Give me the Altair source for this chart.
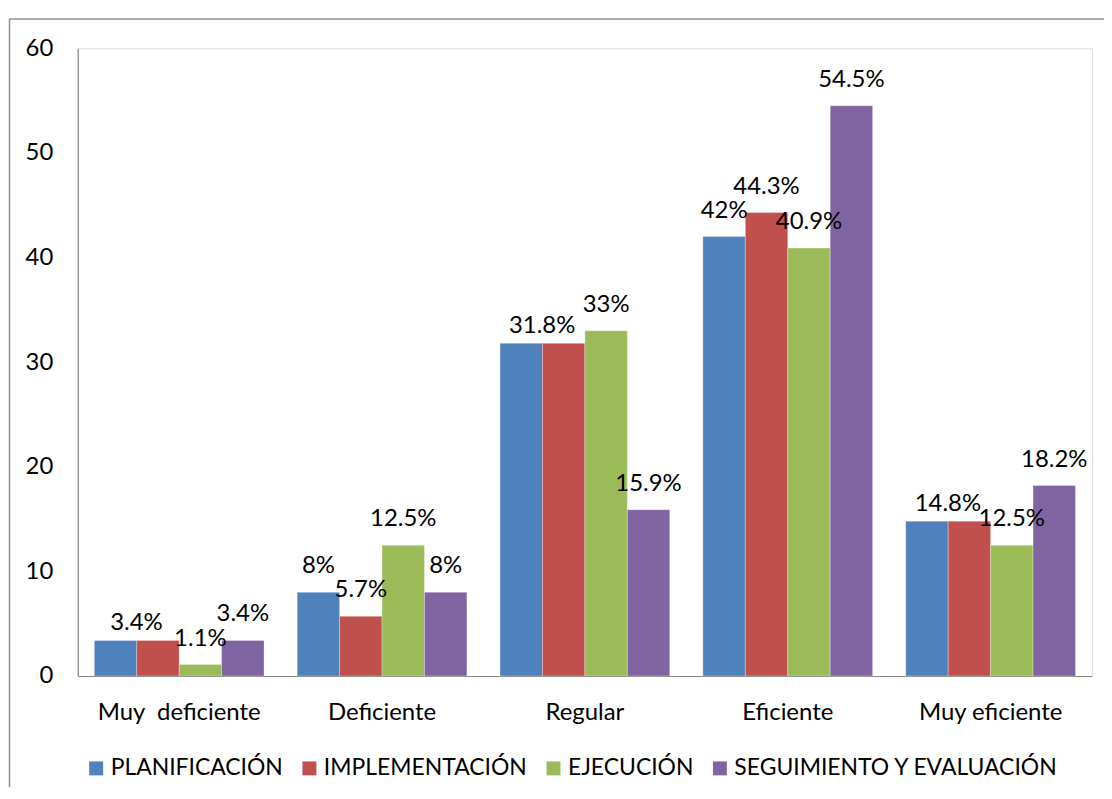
import altair as alt
import pandas as pd

categories = ["Muy\u00a0 deficiente", "Deficiente", "Regular", "Eficiente", "Muy eficiente"]
series = ["PLANIFICACIÓN", "IMPLEMENTACIÓN", "EJECUCIÓN", "SEGUIMIENTO Y EVALUACIÓN"]
planificacion = [3.4, 8, 31.8, 42, 14.8]
implementacion = [3.4, 5.7, 31.8, 44.3, 14.8]
ejecucion = [1.1, 12.5, 33, 40.9, 12.5]
seguimiento = [3.4, 8, 15.9, 54.5, 18.2]
colors = ["#4F81BD", "#C0504D", "#9BBB59", "#8064A2"]
y_ticks = [0, 10, 20, 30, 40, 50, 60]

FONT = "Lato"
FS = 24
values_by_series = [planificacion, implementacion, ejecucion, seguimiento]

rows = []
for s, vals in zip(series, values_by_series):
    for c, v in zip(categories, vals):
        rows.append({"category": c, "series": s, "value": v, "label": f"{v:g}%"})
df = pd.DataFrame(rows)

# labels: where first two series share a value, a single shared label is shown
norm_rows, merged_rows = [], []
for r in rows:
    i = categories.index(r["category"])
    same = planificacion[i] == implementacion[i]
    if r["series"] == series[1] and same:
        continue
    if r["series"] == series[0] and same:
        merged_rows.append(r)
    else:
        norm_rows.append(r)
df_norm = pd.DataFrame(norm_rows)
df_merged = pd.DataFrame(merged_rows)

W, H = 1018, 630

x_enc = alt.X("category:N", sort=categories,
              scale=alt.Scale(paddingInner=0.1634, paddingOuter=0.0817),
              axis=alt.Axis(title=None, labelAngle=0, ticks=False, domainColor="#868686",
                            domainWidth=1.2, labelPadding=25, labelFontSize=FS, labelFont=FONT,
                            labelColor="black"))
xo_enc = alt.XOffset("series:N", sort=series, scale=alt.Scale(paddingInner=0, paddingOuter=0))
y_enc = alt.Y("value:Q", scale=alt.Scale(domain=[0, 60], nice=False),
              axis=alt.Axis(title=None, values=y_ticks, ticks=False, grid=False,
                            domainColor="#868686", domainWidth=1.2, labelPadding=25,
                            labelFontSize=FS, labelFont=FONT, labelColor="black"))

bars = alt.Chart(df).mark_bar(stroke="white", strokeWidth=0.5, strokeOpacity=0.6).encode(
    x=x_enc, xOffset=xo_enc, y=y_enc,
    color=alt.Color("series:N", sort=series,
                    scale=alt.Scale(domain=series, range=colors),
                    legend=alt.Legend(orient="none", legendX=7, legendY=711,
                                      direction="horizontal", title=None,
                                      symbolType="square", symbolSize=196,
                                      symbolStrokeWidth=0, symbolOpacity=1,
                                      labelFontSize=23, labelFont=FONT, labelColor="black",
                                      labelLimit=0, columnPadding=15, labelOffset=3,
                                      padding=0)),
)

txt_norm = alt.Chart(df_norm).mark_text(dy=-26, baseline="middle", fontSize=FS,
                                        font=FONT, color="black").encode(
    x=x_enc, xOffset=xo_enc, y=y_enc, text="label:N")
txt_merged = alt.Chart(df_merged).mark_text(dx=21, dy=-17, baseline="middle", fontSize=FS,
                                            font=FONT, color="black").encode(
    x=x_enc, xOffset=xo_enc, y=y_enc, text="label:N")

one = pd.DataFrame({"a": [0]})
frame_left = alt.Chart(one).mark_rule(color="#8c8c8c", strokeWidth=1.5).encode(
    x=alt.value(-68.5), y=alt.value(-29.5), y2=alt.value(760))
frame_top = alt.Chart(one).mark_rule(color="#8c8c8c", strokeWidth=1.5).encode(
    y=alt.value(-29.5), x=alt.value(-68.5), x2=alt.value(1040))

chart = alt.layer(bars, txt_norm, txt_merged, frame_left, frame_top).properties(
    width=W, height=H,
    autosize=alt.AutoSizeParams(type="none"),
    padding={"left": 70, "top": 39, "right": 12, "bottom": 110},
).configure_view(stroke=None).configure(font=FONT)

chart.save("out.html", embed_options={"renderer": "svg", "actions": False})
